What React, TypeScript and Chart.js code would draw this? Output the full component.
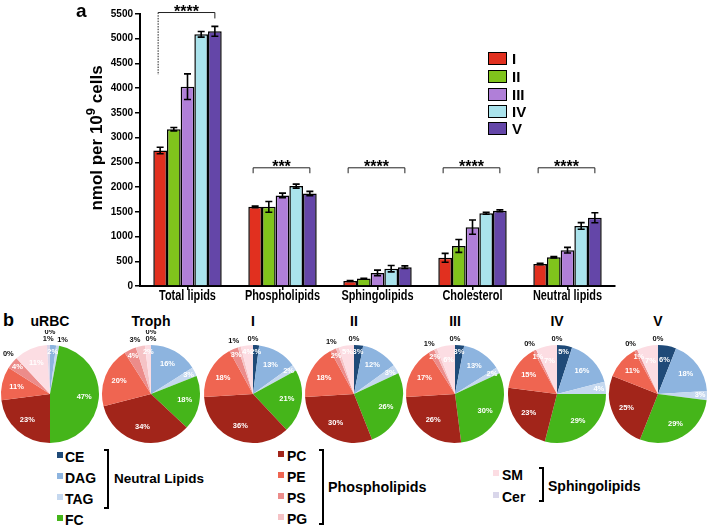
import React, { useEffect, useRef } from 'react';
import { Chart, registerables } from 'chart.js';

Chart.register(...registerables);

// ---------- Panel a: bar chart data ----------
const categories = ['Total lipids', 'Phospholipids', 'Sphingolipids', 'Cholesterol', 'Neutral lipids'];
const stageLabels = ['I', 'II', 'III', 'IV', 'V'];
const stageIValues = [2740, 1600, 100, 570, 445];
const stageIIValues = [3170, 1600, 150, 810, 580];
const stageIIIValues = [4030, 1830, 265, 1190, 725];
const stageIVValues = [5090, 2020, 350, 1470, 1215];
const stageVValues = [5150, 1870, 380, 1520, 1380];
const stageIErrors = [67, 15, 10, 90, 15];
const stageIIErrors = [34, 108, 8, 130, 15];
const stageIIIErrors = [260, 47, 55, 145, 57];
const stageIVErrors = [57, 40, 65, 20, 67];
const stageVErrors = [100, 44, 27, 20, 100];
const significance = ['****', '***', '****', '****', '****'];
const bracketLevels = [5530, 2390, 2390, 2390, 2390];
const bracketLeftLegEnds = [4270, 2280, 2280, 2280, 2280];
const bracketRightLegEnds = [5410, 2280, 2280, 2280, 2280];
const yTickMax = 5500;
const yTickStep = 500;

const stageValues = [stageIValues, stageIIValues, stageIIIValues, stageIVValues, stageVValues];
const stageErrors = [stageIErrors, stageIIErrors, stageIIIErrors, stageIVErrors, stageVErrors];
const barColors = ['#e1301f', '#80c41c', '#b07fd8', '#aae3ec', '#6446a8'];

// ---------- Panel b: pie data ----------
const lipidClasses = ['CE', 'DAG', 'TAG', 'FC', 'PC', 'PE', 'PS', 'PG', 'SM', 'Cer'];
const pieTitles = ['uRBC', 'Troph', 'I', 'II', 'III', 'IV', 'V'];
const uRBCShares = [0, 2, 1, 47, 23, 11, 4, 0, 11, 1];
const trophShares = [0, 16, 3, 18, 34, 20, 4, 3, 2, 0];
const stageIShares = [2, 13, 2, 21, 36, 18, 3, 1, 4, 0];
const stageIIShares = [3, 12, 3, 26, 30, 18, 2, 1, 5, 0];
const stageIIIShares = [3, 13, 2, 30, 26, 17, 2, 1, 6, 0];
const stageIVShares = [5, 16, 4, 29, 23, 15, 1, 0, 7, 0];
const stageVShares = [6, 18, 3, 29, 25, 11, 1, 0, 7, 0];
// indices of slices whose percentage is written outside the pie
const uRBCOutside = [0, 2, 7, 9];
const trophOutside = [0, 7, 9];
const stageIOutside = [7, 9];
const stageIIOutside = [7, 9];
const stageIIIOutside = [7, 9];
const stageIVOutside = [7, 9];
const stageVOutside = [7, 9];

const pieShares = [uRBCShares, trophShares, stageIShares, stageIIShares, stageIIIShares, stageIVShares, stageVShares];
const pieOutside = [uRBCOutside, trophOutside, stageIOutside, stageIIOutside, stageIIIOutside, stageIVOutside, stageVOutside];
const lipidColors = ['#1f4a78', '#8db4df', '#c5d8ef', '#45b51a', '#a2251a', '#ef6551', '#ec8c8a', '#f5c3c6', '#fcdde3', '#d9d6ea'];

const FONT = '"Liberation Sans", Arial, sans-serif';

const errorBarPlugin = {
  id: 'errorBars',
  afterDatasetsDraw(chart: any) {
    const ctx = chart.ctx;
    const y = chart.scales.y;
    ctx.save();
    ctx.strokeStyle = '#000';
    ctx.lineWidth = 1.6;
    chart.data.datasets.forEach((ds: any, di: number) => {
      const meta = chart.getDatasetMeta(di);
      meta.data.forEach((bar: any, i: number) => {
        const v = ds.data[i];
        const e = stageErrors[di][i];
        const x = bar.x;
        const top = y.getPixelForValue(v + e);
        const bot = y.getPixelForValue(v - e);
        ctx.beginPath();
        ctx.moveTo(x, top);
        ctx.lineTo(x, bot);
        ctx.moveTo(x - 3.5, top);
        ctx.lineTo(x + 3.5, top);
        ctx.moveTo(x - 3.5, bot);
        ctx.lineTo(x + 3.5, bot);
        ctx.stroke();
      });
    });
    ctx.restore();
  },
};

const significancePlugin = {
  id: 'significance',
  afterDatasetsDraw(chart: any) {
    const ctx = chart.ctx;
    const y = chart.scales.y;
    const first = chart.getDatasetMeta(0);
    const last = chart.getDatasetMeta(chart.data.datasets.length - 1);
    ctx.save();
    categories.forEach((_, i) => {
      const x1 = first.data[i].x - 2;
      const x2 = last.data[i].x;
      const by = y.getPixelForValue(bracketLevels[i]);
      const ly = y.getPixelForValue(bracketLeftLegEnds[i]);
      const ry = y.getPixelForValue(bracketRightLegEnds[i]);
      ctx.strokeStyle = '#222';
      ctx.lineWidth = 1;
      ctx.beginPath();
      ctx.moveTo(x1, by);
      ctx.lineTo(x2, by);
      ctx.lineTo(x2, ry);
      ctx.stroke();
      if (i === 0) ctx.setLineDash([1.5, 1.2]);
      ctx.beginPath();
      ctx.moveTo(x1, by);
      ctx.lineTo(x1, ly);
      ctx.stroke();
      ctx.setLineDash([]);
      ctx.fillStyle = '#000';
      ctx.font = `bold 16px ${FONT}`;
      ctx.textAlign = 'center';
      ctx.textBaseline = 'alphabetic';
      ctx.fillText(significance[i], (x1 + x2) / 2, by + 4);
    });
    ctx.restore();
  },
};

// category labels drawn at the x scale's tick positions, horizontally condensed
const categoryLabelPlugin = {
  id: 'categoryLabels',
  afterDraw(chart: any) {
    const ctx = chart.ctx;
    const xs = chart.scales.x;
    ctx.save();
    ctx.fillStyle = '#000';
    ctx.font = `bold 14px ${FONT}`;
    ctx.textAlign = 'center';
    ctx.textBaseline = 'top';
    chart.data.labels.forEach((c: string, i: number) => {
      const x = xs.getPixelForTick(i);
      ctx.save();
      ctx.translate(x, xs.top + 3.5);
      ctx.scale(0.78, 1);
      ctx.fillText(c, 0, 0);
      ctx.restore();
    });
    ctx.restore();
  },
};

const pieLabelPlugin = {
  id: 'pieLabels',
  afterDatasetsDraw(chart: any, _args: any, opts: any) {
    const ctx = chart.ctx;
    const meta = chart.getDatasetMeta(0);
    const data = chart.data.datasets[0].data as number[];
    const outside: number[] = opts.outside || [];
    const placed: { x: number; y: number }[] = [];
    ctx.save();
    ctx.font = `bold 7.5px ${FONT}`;
    ctx.textAlign = 'center';
    ctx.textBaseline = 'middle';
    for (let i = data.length - 1; i >= 0; i--) {
      const arc = meta.data[i];
      const p = arc.getProps(['x', 'y', 'startAngle', 'endAngle', 'outerRadius'], true);
      const mid = (p.startAngle + p.endAngle) / 2;
      const r = p.outerRadius;
      const label = `${data[i]}%`;
      if (outside.includes(i)) {
        let px = p.x + Math.cos(mid) * (r + 6);
        let py = p.y + Math.sin(mid) * (r + 6);
        const c = Math.cos(mid);
        if (Math.abs(c) > 0.05) px += Math.sign(c) * 4;
        let moved = true;
        while (moved) {
          moved = false;
          for (const q of placed) {
            if (Math.abs(px - q.x) < 9 && Math.abs(py - q.y) < 7.5) {
              py = q.y - 7.5;
              moved = true;
            }
          }
        }
        placed.push({ x: px, y: py });
        ctx.fillStyle = '#111';
        ctx.fillText(label, px, py);
      } else {
        const f = data[i] < 6 ? 0.86 : 0.7;
        const px = p.x + Math.cos(mid) * r * f;
        const py = p.y + Math.sin(mid) * r * f;
        ctx.fillStyle = '#fff';
        ctx.fillText(label, px, py);
      }
    }
    ctx.restore();
  },
};

function BarPanel() {
  const ref = useRef<HTMLCanvasElement>(null);
  useEffect(() => {
    if (!ref.current) return;
    const chart = new Chart(ref.current, {
      type: 'bar',
      data: {
        labels: categories,
        datasets: stageLabels.map((s, k) => ({
          label: s,
          data: stageValues[k],
          backgroundColor: barColors[k],
          borderColor: '#000',
          borderWidth: 1.5,
          categoryPercentage: 0.72,
          barPercentage: 1.0,
        })),
      },
      options: {
        responsive: false,
        animation: false,
        devicePixelRatio: 1,
        events: [],
        layout: { padding: { left: 0, right: 25, top: 14, bottom: 0 } },
        plugins: { legend: { display: false }, tooltip: { enabled: false } },
        scales: {
          x: {
            grid: { display: true, drawOnChartArea: false, drawTicks: true, tickLength: 4, color: '#000', lineWidth: 1.5, offset: false },
            border: { display: true, color: '#000', width: 2 },
            ticks: { display: false, autoSkip: false },
            afterFit: (s: any) => { s.height = 24; },
          },
          y: {
            min: 0,
            max: yTickMax,
            ticks: {
              stepSize: yTickStep,
              color: '#000',
              font: { family: FONT, size: 10, weight: 'bold' },
              padding: 2,
              callback: (v: any) => String(v),
            },
            grid: { display: true, drawOnChartArea: false, drawTicks: true, tickLength: 5, color: '#000', lineWidth: 1.5 },
            border: { display: true, color: '#000', width: 2 },
            afterFit: (s: any) => { s.width = 60; },
          },
        },
      } as any,
      plugins: [errorBarPlugin, significancePlugin, categoryLabelPlugin],
    });
    return () => chart.destroy();
  }, []);
  return <canvas ref={ref} width={560} height={310} style={{ position: 'absolute', left: 80, top: 0 }} />;
}

function PiePanel({ k, cx }: { k: number; cx: number }) {
  const ref = useRef<HTMLCanvasElement>(null);
  useEffect(() => {
    if (!ref.current) return;
    const chart = new Chart(ref.current, {
      type: 'pie',
      data: {
        labels: lipidClasses,
        datasets: [{ data: pieShares[k], backgroundColor: lipidColors, borderWidth: 0, hoverOffset: 0 }],
      },
      options: {
        responsive: false,
        animation: false,
        devicePixelRatio: 1,
        events: [],
        layout: { padding: { left: 1, right: 1, top: 15, bottom: 2 } },
        plugins: { legend: { display: false }, tooltip: { enabled: false }, pieLabels: { outside: pieOutside[k] } },
      } as any,
      plugins: [pieLabelPlugin],
    });
    return () => chart.destroy();
  }, [k]);
  return <canvas ref={ref} width={100} height={115} style={{ position: 'absolute', left: cx - 50, top: 330 }} />;
}

const pieCenters = [50, 151, 253, 354, 455, 557, 658];

function LegendItem({ color, label, sx, tx, cy }: { color: string; label: string; sx: number; tx: number; cy: number }) {
  return (
    <>
      <div style={{ position: 'absolute', left: sx, top: cy - 5, width: 6, height: 6, background: color }} />
      <div style={{ position: 'absolute', left: tx, top: cy - 8, lineHeight: '16px', fontSize: 14, fontWeight: 'bold', fontFamily: FONT, whiteSpace: 'nowrap' }}>{label}</div>
    </>
  );
}

function Bracket({ x, top, bottom }: { x: number; top: number; bottom: number }) {
  return (
    <div style={{ position: 'absolute', left: x - 5, top, width: 5, height: bottom - top, borderTop: '2px solid #000', borderRight: '2px solid #000', borderBottom: '2px solid #000', boxSizing: 'border-box' }} />
  );
}

function GroupLabel({ text, x, cy, size }: { text: string; x: number; cy: number; size: number }) {
  return (
    <div style={{ position: 'absolute', left: x, top: cy - 9, lineHeight: '18px', fontSize: size, fontWeight: 'bold', fontFamily: FONT, whiteSpace: 'nowrap' }}>{text}</div>
  );
}

export default function App() {
  const legendTops = [52, 70, 88, 105, 122];
  return (
    <div style={{ position: 'fixed', left: 0, top: 0, width: 710, height: 529, background: '#fff', overflow: 'hidden', fontFamily: FONT, color: '#000' }}>
      <BarPanel />
      <div style={{ position: 'absolute', left: 76, top: 1, fontSize: 19, lineHeight: '19px', fontWeight: 'bold' }}>a</div>
      <div style={{ position: 'absolute', left: 97, top: 138, transform: 'translate(-50%, -50%) rotate(-90deg)', whiteSpace: 'nowrap', fontSize: 17, lineHeight: '20px', fontWeight: 'bold' }}>
        nmol per 10<span style={{ fontSize: 13, position: 'relative', top: -7 }}>9</span> cells
      </div>
      {stageLabels.map((s, k) => (
        <React.Fragment key={s}>
          <div style={{ position: 'absolute', left: 488, top: legendTops[k], width: 19, height: 13, background: barColors[k], border: '1.5px solid #000', boxSizing: 'border-box' }} />
          <div style={{ position: 'absolute', left: 512, top: legendTops[k] - 2, lineHeight: '17px', fontSize: 15, fontWeight: 'bold' }}>{s}</div>
        </React.Fragment>
      ))}

      <div style={{ position: 'absolute', left: 3, top: 311, fontSize: 18, lineHeight: '18px', fontWeight: 'bold' }}>b</div>
      {pieTitles.map((t, k) => (
        <div key={t} style={{ position: 'absolute', left: pieCenters[k], top: 314, transform: 'translateX(-50%)', fontSize: 14, lineHeight: '15px', fontWeight: 'bold', whiteSpace: 'nowrap' }}>{t}</div>
      ))}
      {pieTitles.map((t, k) => (
        <PiePanel key={`p${t}`} k={k} cx={pieCenters[k]} />
      ))}

      {/* Neutral lipids */}
      {[0, 1, 2, 3].map((i, j) => (
        <LegendItem key={lipidClasses[i]} color={lipidColors[i]} label={lipidClasses[i]} sx={57} tx={65} cy={[457, 478, 499, 520][j]} />
      ))}
      <Bracket x={109} top={449} bottom={509} />
      <GroupLabel text="Neutral Lipids" x={114} cy={479} size={13.5} />

      {/* Phospholipids */}
      {[4, 5, 6, 7].map((i, j) => (
        <LegendItem key={lipidClasses[i]} color={lipidColors[i]} label={lipidClasses[i]} sx={278} tx={287} cy={[455.5, 477, 498, 518.5][j]} />
      ))}
      <Bracket x={324} top={449} bottom={525} />
      <GroupLabel text="Phospholipids" x={328} cy={487} size={14.3} />

      {/* Sphingolipids */}
      {[8, 9].map((i, j) => (
        <LegendItem key={lipidClasses[i]} color={lipidColors[i]} label={lipidClasses[i]} sx={493} tx={502} cy={[475, 496.5][j]} />
      ))}
      <Bracket x={544} top={467} bottom={502} />
      <GroupLabel text="Sphingolipids" x={548} cy={486} size={14} />
    </div>
  );
}
